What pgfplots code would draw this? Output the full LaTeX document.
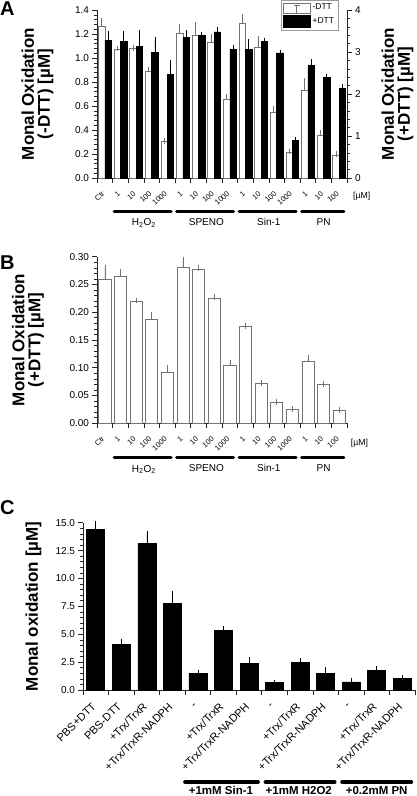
\documentclass[border=0pt]{standalone}
\usepackage{fontspec}
\setmainfont{Liberation Sans}
\usepackage{pgfplots}
\pgfplotsset{compat=1.18}

\pgfplotsset{
  base/.style={
    scale only axis, anchor=south west, clip=false,
    axis x line*=bottom, axis y line*=left,
    axis line style={black!85, line width=0.6pt},
    tick align=outside, major tick length=4.5pt, minor tick length=2.5pt,
    every tick/.style={black!85, line width=0.6pt},
    every tick label/.append style={font=\fontsize{10}{12}\selectfont},
    /pgf/number format/assume math mode=true,
    ybar,
    ylabel style={rotate=0, anchor=center, align=center, font=\bfseries\fontsize{17}{16}\selectfont},
  },
  wbar/.style={fill=white, draw=black!55, line width=0.6pt,
    error bars/y dir=plus, error bars/y explicit,
    error bars/error bar style={black!55, line width=0.6pt},
    error bars/error mark options={black!55, line width=0.6pt, mark size=2.8pt}},
  bbar/.style={fill=black, draw=black, line width=0.6pt,
    error bars/y dir=plus, error bars/y explicit,
    error bars/error bar style={black, line width=0.6pt},
    error bars/error mark options={black, line width=0.6pt, mark size=2.8pt}},
  catlab/.style={xticklabel style={xshift=#1, yshift=-10pt, rotate=42, anchor=east, inner sep=0pt, font=\fontsize{7.5}{8}\selectfont}},
}

\begin{document}
\begin{tikzpicture}
\path[use as bounding box] (0pt,0pt) rectangle (416pt,-796pt);
\node[anchor=north west, inner sep=0pt, font=\bfseries\fontsize{20}{20}\selectfont] at (0pt,-2pt) {A};
\node[anchor=north west, inner sep=0pt, font=\bfseries\fontsize{20}{20}\selectfont] at (0pt,-256pt) {B};
\node[anchor=north west, inner sep=0pt, font=\bfseries\fontsize{20}{20}\selectfont] at (0pt,-500pt) {C};

% ---------------- Panel A, left axis (-DTT)
\begin{axis}[base, at={(97pt,-178pt)}, width=250pt, height=168pt,
  xmin=-0.5, xmax=15.5, ymin=0, ymax=1.4,
  ytick={0,0.2,0.4,0.6,0.8,1.0,1.2,1.4}, minor y tick num=4,
  yticklabel style={/pgf/number format/.cd, fixed, fixed zerofill, precision=1},
  xtick={-0.5,0.5,...,15.5},
  xticklabels={Ctr,1,10,100,1000,1,10,100,1000,1,10,100,1000,1,10,100,{}},
  catlab=6.5pt,
  ylabel={Monal Oxidation\\(-DTT) [µM]},
  ylabel style={at={(axis description cs:-0.238,0.5)}},
]
\addplot[wbar, bar width=6.4pt, bar shift=-3.2pt] coordinates {
(0,1.267) +- (0,0.045)
(1,1.073) +- (0,0.005)
(2,1.078) +- (0,0.005)
(3,0.893) +- (0,0.011)
(4,0.305) +- (0,0.004)
(5,1.206) +- (0,0.050)
(6,1.192) +- (0,0.086)
(7,1.131) +- (0,0.047)
(8,0.660) +- (0,0.016)
(9,1.289) +- (0,0.055)
(10,1.090) +- (0,0.072)
(11,0.549) +- (0,0.028)
(12,0.216) +- (0,0.005)
(13,0.735) +- (0,0.075)
(14,0.360) +- (0,0.014)
(15,0.189) +- (0,0.011)
};
\draw[line width=3pt, line cap=round] ([yshift=-33.7pt]axis cs:0.6,0) -- ([yshift=-33.7pt]axis cs:4.25,0);
\draw[line width=3pt, line cap=round] ([yshift=-33.7pt]axis cs:4.6,0) -- ([yshift=-33.7pt]axis cs:8.25,0);
\draw[line width=3pt, line cap=round] ([yshift=-33.7pt]axis cs:8.6,0) -- ([yshift=-33.7pt]axis cs:12.25,0);
\draw[line width=3pt, line cap=round] ([yshift=-33.7pt]axis cs:12.6,0) -- ([yshift=-33.7pt]axis cs:15.3,0);
\node[font=\fontsize{10}{12}\selectfont] at ([yshift=-45pt]axis cs:2.5,0) {H\textsubscript{2}O\textsubscript{2}};
\node[font=\fontsize{10}{12}\selectfont] at ([yshift=-44pt]axis cs:6.5,0) {SPENO};
\node[font=\fontsize{10}{12}\selectfont] at ([yshift=-44pt]axis cs:10.5,0) {Sin-1};
\node[font=\fontsize{10}{12}\selectfont] at ([yshift=-44pt]axis cs:14,0) {PN};
\node[font=\fontsize{8.7}{10}\selectfont] at ([yshift=-18.5pt]axis cs:16.44,0) {[µM]};
\end{axis}

% ---------------- Panel A, right axis (+DTT)
\begin{axis}[base, at={(97pt,-178pt)}, width=250pt, height=168pt,
  xmin=-0.5, xmax=15.5, ymin=0, ymax=4,
  axis y line*=right, axis x line=none,
  ytick={0,1,2,3,4}, minor y tick num=4,
  ylabel={Monal Oxidation\\(+DTT) [µM]},
  ylabel style={at={(axis description cs:1.202,0.5)}},
  legend style={at={(0.965,1.06)}, anchor=north east, draw=black!40,
    font=\fontsize{8.5}{9}\selectfont, inner sep=2pt, row sep=2pt},
  legend cell align=left,
]
\addlegendimage{legend image code/.code={\draw[fill=white,draw=black!55,line width=0.6pt] (0pt,-5pt) rectangle (27pt,5pt); \draw[black!55,line width=0.6pt] (13.5pt,-5pt)--(13.5pt,3pt) (10.5pt,3pt)--(16.5pt,3pt);}}
\addlegendentry{-DTT}
\addlegendimage{legend image code/.code={\draw[fill=black,draw=black] (0pt,-6pt) rectangle (27pt,6pt);}}
\addlegendentry{+DTT}
\addplot[bbar, bar width=6.4pt, bar shift=3.2pt, forget plot] coordinates {
(0,3.28) +- (0,0.15)
(1,3.26) +- (0,0.17)
(2,3.13) +- (0,0.32)
(3,2.99) +- (0,0.31)
(4,2.46) +- (0,0.28)
(5,3.35) +- (0,0.11)
(6,3.40) +- (0,0.02)
(7,3.48) +- (0,0.06)
(8,3.07) +- (0,0.02)
(9,3.07) +- (0,0.18)
(10,3.26) +- (0,0.01)
(11,2.98) +- (0,0.01)
(12,0.895) +- (0,0.01)
(13,2.68) +- (0,0.08)
(14,2.39) +- (0,0.02)
(15,2.14) +- (0,0.03)
};
\end{axis}

% ---------------- Panel B
\begin{axis}[base, at={(97pt,-423.3pt)}, width=250pt, height=166.6pt,
  xmin=-0.5, xmax=15.5, ymin=0, ymax=0.30,
  ytick={0,0.05,0.10,0.15,0.20,0.25,0.30}, minor y tick num=4,
  yticklabel style={/pgf/number format/.cd, fixed, fixed zerofill, precision=2},
  xtick={-0.5,0.5,...,15.5},
  xticklabels={Ctr,1,10,100,1000,1,10,100,1000,1,10,100,1000,1,10,100,{}},
  catlab=6.5pt,
  ylabel={Monal Oxidation\\(+DTT) [µM]},
  ylabel style={at={(axis description cs:-0.276,0.5)}},
]
\addplot[wbar, bar width=12.2pt, bar shift=0pt] coordinates {
(0,0.260) +- (0,0.020)
(1,0.265) +- (0,0.007)
(2,0.220) +- (0,0.001)
(3,0.187) +- (0,0.009)
(4,0.0915) +- (0,0.008)
(5,0.2817) +- (0,0.013)
(6,0.2775) +- (0,0.002)
(7,0.226) +- (0,0.001)
(8,0.1047) +- (0,0.004)
(9,0.1746) +- (0,0.001)
(10,0.0712) +- (0,0.001)
(11,0.0377) +- (0,0.001)
(12,0.025) +- (0,0.001)
(13,0.1124) +- (0,0.005)
(14,0.0694) +- (0,0.001)
(15,0.0233) +- (0,0.001)
};
\draw[line width=3pt, line cap=round] ([yshift=-34.4pt]axis cs:0.6,0) -- ([yshift=-34.4pt]axis cs:4.25,0);
\draw[line width=3pt, line cap=round] ([yshift=-34.4pt]axis cs:4.6,0) -- ([yshift=-34.4pt]axis cs:8.25,0);
\draw[line width=3pt, line cap=round] ([yshift=-34.4pt]axis cs:8.6,0) -- ([yshift=-34.4pt]axis cs:12.25,0);
\draw[line width=3pt, line cap=round] ([yshift=-34.4pt]axis cs:12.6,0) -- ([yshift=-34.4pt]axis cs:15.3,0);
\node[font=\fontsize{10}{12}\selectfont] at ([yshift=-46pt]axis cs:2.5,0) {H\textsubscript{2}O\textsubscript{2}};
\node[font=\fontsize{10}{12}\selectfont] at ([yshift=-45pt]axis cs:6.5,0) {SPENO};
\node[font=\fontsize{10}{12}\selectfont] at ([yshift=-45pt]axis cs:10.5,0) {Sin-1};
\node[font=\fontsize{10}{12}\selectfont] at ([yshift=-45pt]axis cs:14,0) {PN};
\node[font=\fontsize{8.7}{10}\selectfont] at ([yshift=-20pt]axis cs:16.3,0) {[µM]};
\end{axis}

% ---------------- Panel C
\begin{axis}[base, at={(83pt,-690pt)}, width=332pt, height=167.3pt,
  xmin=-0.5, xmax=12.5, ymin=0, ymax=15,
  ytick={0,2.5,5,7.5,10,12.5,15}, minor y tick num=4,
  yticklabel style={/pgf/number format/.cd, fixed, fixed zerofill, precision=1},
  xtick={-0.5,0.5,...,12.5},
  xticklabels={PBS+DTT,PBS-DTT,+Trx/TrxR,+Trx/TrxR-NADPH,-,+Trx/TrxR,+Trx/TrxR-NADPH,-,+Trx/TrxR,+Trx/TrxR-NADPH,-,+Trx/TrxR,+Trx/TrxR-NADPH,{}},
  xticklabel style={xshift=11pt, yshift=-10pt, rotate=45, anchor=east, inner sep=0pt, font=\fontsize{11}{12}\selectfont},
  ylabel={Monal oxidation [µM]},
  ylabel style={at={(axis description cs:-0.149,0.5)}},
]
\addplot[bbar, bar width=18pt, bar shift=0pt] coordinates {
(0,14.40) +- (0,0.54)
(1,4.09) +- (0,0.27)
(2,13.12) +- (0,0.87)
(3,7.74) +- (0,0.90)
(4,1.52) +- (0,0.05)
(5,5.38) +- (0,0.12)
(6,2.36) +- (0,0.39)
(7,0.66) +- (0,0.03)
(8,2.51) +- (0,0.09)
(9,1.46) +- (0,0.35)
(10,0.72) +- (0,0.09)
(11,1.73) +- (0,0.18)
(12,1.05) +- (0,0.03)
};
\draw[line width=4pt, line cap=round] ([yshift=-92pt]axis cs:3.5,0) -- ([yshift=-92pt]axis cs:6.35,0);
\draw[line width=4pt, line cap=round] ([yshift=-92pt]axis cs:6.65,0) -- ([yshift=-92pt]axis cs:9.35,0);
\draw[line width=4pt, line cap=round] ([yshift=-92pt]axis cs:9.65,0) -- ([yshift=-92pt]axis cs:12.35,0);
\node[inner sep=0pt, font=\bfseries\fontsize{11.5}{12}\selectfont] at ([yshift=-100.5pt]axis cs:4.9,0) {+1mM Sin-1};
\node[inner sep=0pt, font=\bfseries\fontsize{11.5}{12}\selectfont] at ([yshift=-100.5pt]axis cs:7.95,0) {+1mM H2O2};
\node[inner sep=0pt, font=\bfseries\fontsize{11.5}{12}\selectfont] at ([yshift=-100.5pt]axis cs:11.0,0) {+0.2mM PN};
\end{axis}
\end{tikzpicture}
\end{document}
